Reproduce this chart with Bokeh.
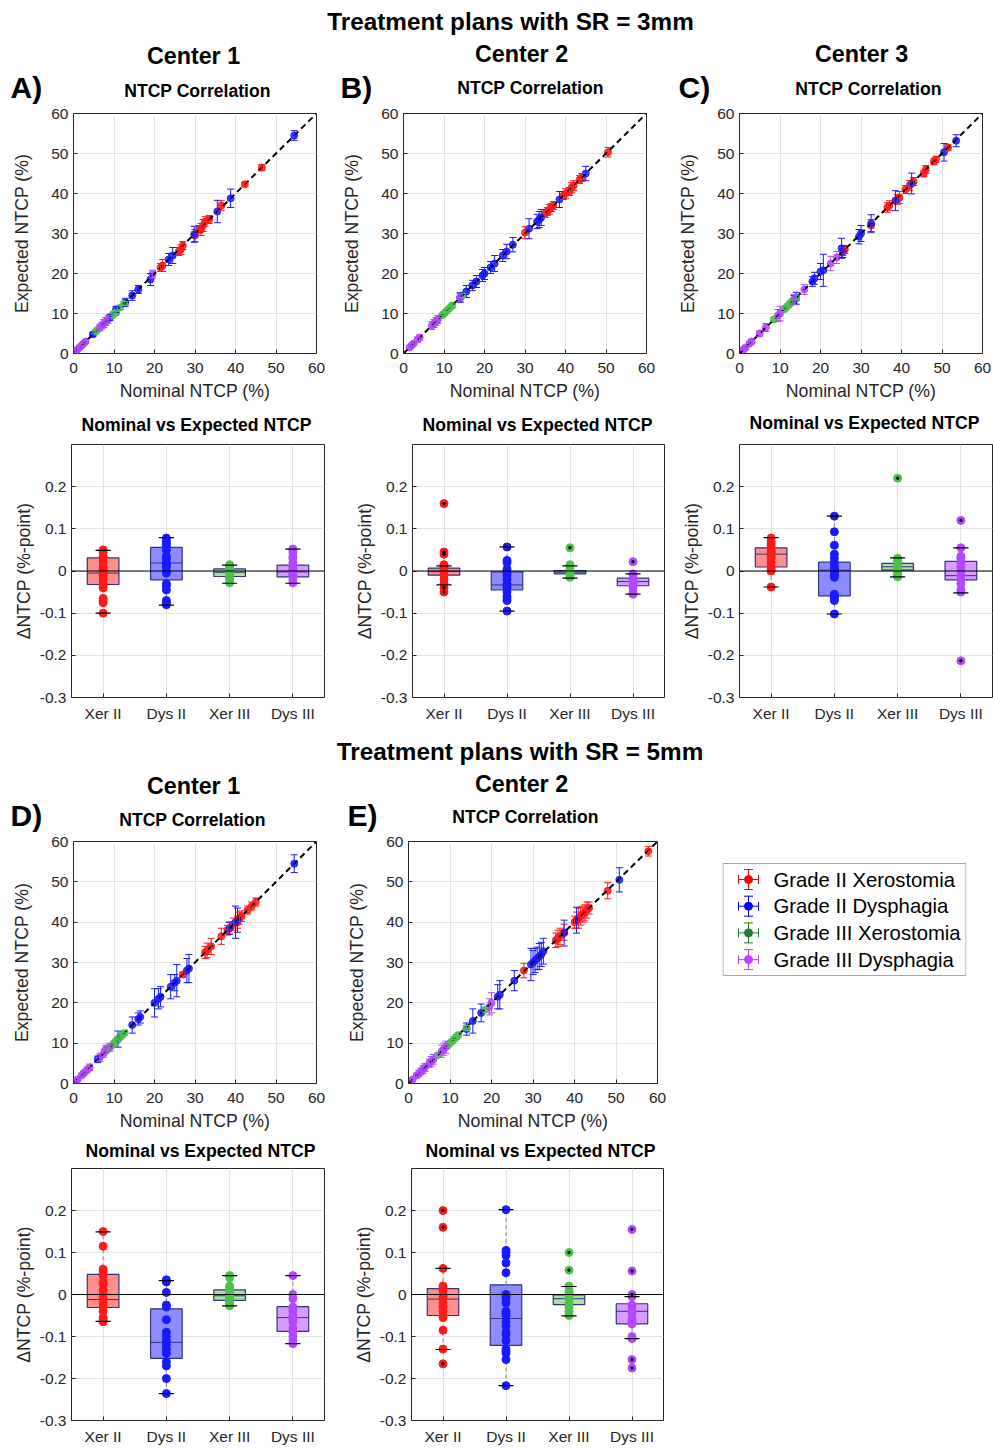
from bokeh.plotting import figure
from bokeh.layouts import column, row
from bokeh.models import Label, Whisker, TeeHead, ColumnDataSource, Range1d, FixedTicker, Span
from bokeh.embed import file_html
from bokeh.resources import INLINE

# ---------------- data: NTCP correlation (nominal, expected, error half-length) ----------------
ntcp_ticks = [0, 10, 20, 30, 40, 50, 60]
diag = [0, 60]

# SR = 3mm, Center 1
s3c1_xer2_nom = [46.5, 42.3, 36.5, 33.5, 32.5, 32.0, 31.5, 31.0, 30.0, 27.0, 26.5, 26.0, 22.0, 21.5]
s3c1_xer2_exp = [46.5, 42.3, 37.0, 33.5, 33.0, 32.0, 31.0, 31.0, 29.5, 27.0, 26.0, 25.5, 22.0, 21.5]
s3c1_xer2_err = [0.8, 0.5, 1.2, 1.0, 1.2, 1.5, 1.5, 1.0, 1.5, 1.0, 1.2, 1.0, 1.5, 1.0]
s3c1_dys2_nom = [54.5, 38.8, 35.5, 29.8, 24.5, 23.5, 19.0, 16.0, 14.5, 12.8, 10.5, 9.0, 4.8]
s3c1_dys2_exp = [54.5, 38.8, 35.5, 29.8, 24.5, 23.5, 18.5, 16.0, 14.5, 12.8, 11.0, 9.0, 4.8]
s3c1_dys2_err = [1.2, 2.3, 2.8, 2.0, 2.0, 1.5, 1.5, 1.0, 1.2, 1.0, 0.8, 0.8, 0.5]
s3c1_xer3_nom = [12.5, 11.5, 10.5, 10.0, 9.5, 6.0, 5.5]
s3c1_xer3_exp = [12.5, 11.5, 10.2, 10.0, 9.5, 6.0, 5.5]
s3c1_xer3_err = [0.5, 0.5, 0.6, 0.5, 0.5, 0.4, 0.4]
s3c1_dys3_nom = [19.5, 8.5, 8.0, 7.5, 7.0, 6.5, 3.0, 2.5, 2.0, 1.5, 1.0, 0.5, 0.2]
s3c1_dys3_exp = [19.8, 8.5, 8.0, 7.5, 7.0, 6.5, 3.0, 2.5, 2.0, 1.5, 1.0, 0.5, 0.2]
s3c1_dys3_err = [1.0, 1.0, 1.0, 1.0, 0.8, 0.8, 0.5, 0.5, 0.5, 0.3, 0.3, 0.3, 0.2]

# SR = 3mm, Center 2
s3c2_xer2_nom = [50.5, 44.0, 43.5, 42.0, 41.5, 41.0, 40.0, 39.5, 37.0, 36.5, 36.0, 35.5, 35.0, 30.0]
s3c2_xer2_exp = [50.3, 44.0, 43.5, 42.0, 41.5, 40.5, 40.0, 39.5, 37.0, 36.5, 36.0, 35.5, 35.0, 30.2]
s3c2_xer2_err = [1.2, 1.0, 1.0, 1.2, 1.2, 1.0, 1.2, 1.0, 1.0, 1.0, 1.2, 1.0, 1.0, 1.5]
s3c2_dys2_nom = [45.0, 38.5, 34.0, 33.5, 33.0, 31.0, 27.0, 25.5, 24.5, 22.5, 21.5, 20.0, 19.5, 18.0, 17.0, 15.5, 14.0]
s3c2_dys2_exp = [45.0, 38.5, 34.0, 33.5, 33.0, 31.2, 27.2, 25.5, 24.5, 22.5, 21.5, 20.0, 19.5, 18.0, 17.0, 15.5, 14.0]
s3c2_dys2_err = [1.8, 2.0, 2.0, 2.0, 1.8, 2.5, 1.8, 1.8, 1.5, 2.0, 1.5, 1.5, 1.5, 1.5, 1.3, 1.5, 1.2]
s3c2_xer3_nom = [14.5, 12.0, 11.5, 11.0, 10.5, 10.0, 9.5]
s3c2_xer3_exp = [14.5, 12.0, 11.5, 11.0, 10.5, 10.0, 9.5]
s3c2_xer3_err = [0.5, 0.6, 0.5, 0.5, 0.5, 0.5, 0.5]
s3c2_dys3_nom = [14.0, 8.5, 8.0, 7.5, 7.0, 4.0, 3.5, 2.5, 2.0, 1.5]
s3c2_dys3_exp = [14.0, 8.5, 8.0, 7.5, 7.0, 4.0, 3.5, 2.5, 2.0, 1.5]
s3c2_dys3_err = [1.0, 1.0, 1.0, 1.0, 1.0, 0.7, 0.6, 0.5, 0.5, 0.4]

# SR = 3mm, Center 3
s3c3_xer2_nom = [51.5, 48.5, 48.0, 46.0, 45.5, 43.0, 42.0, 41.0, 39.5, 39.0, 37.0, 36.5, 32.5, 26.0, 25.5]
s3c3_xer2_exp = [51.5, 48.5, 48.0, 46.0, 45.0, 43.0, 42.0, 41.0, 39.0, 38.5, 37.0, 36.5, 32.0, 26.0, 25.5]
s3c3_xer2_err = [0.8, 0.8, 0.8, 1.0, 0.8, 1.0, 1.2, 1.0, 1.5, 1.2, 1.2, 1.2, 1.5, 1.0, 1.0]
s3c3_dys2_nom = [53.5, 50.5, 42.5, 38.5, 32.5, 30.0, 29.5, 25.2, 25.5, 20.7, 20.0, 18.5, 18.0, 14.0, 13.5]
s3c3_dys2_exp = [53.2, 50.3, 42.5, 38.2, 32.5, 30.0, 29.2, 26.3, 25.5, 20.8, 20.5, 18.8, 18.0, 13.8, 13.5]
s3c3_dys2_err = [1.5, 2.2, 2.6, 2.5, 2.2, 2.0, 1.8, 2.5, 1.5, 4.0, 2.0, 1.5, 1.2, 1.5, 1.0]
s3c3_xer3_nom = [14.0, 13.0, 12.5, 12.0, 11.5, 11.0, 8.5]
s3c3_xer3_exp = [14.0, 13.0, 12.5, 12.0, 11.5, 11.0, 8.5]
s3c3_xer3_err = [0.6, 0.6, 0.6, 0.5, 0.5, 0.5, 0.5]
s3c3_dys3_nom = [24.0, 22.5, 16.0, 13.5, 10.0, 9.5, 6.5, 5.0, 3.0, 2.5, 1.5, 1.0]
s3c3_dys3_exp = [24.0, 22.5, 16.0, 13.5, 10.0, 9.5, 6.5, 5.0, 3.0, 2.5, 1.5, 1.0]
s3c3_dys3_err = [1.5, 1.8, 1.2, 1.3, 1.8, 1.5, 1.0, 0.7, 0.6, 0.5, 0.4, 0.3]

# SR = 5mm, Center 1
s5c1_xer2_nom = [45.0, 44.0, 43.0, 41.5, 41.0, 40.5, 39.5, 38.5, 38.0, 36.5, 34.0, 33.0, 32.5, 27.0]
s5c1_xer2_exp = [45.0, 44.0, 43.0, 41.5, 41.0, 40.0, 39.5, 38.5, 38.0, 36.5, 34.0, 33.0, 32.5, 27.0]
s5c1_xer2_err = [1.0, 1.0, 1.0, 1.3, 1.5, 1.5, 1.5, 1.5, 1.2, 2.0, 2.0, 1.8, 1.5, 0.6]
s5c1_dys2_nom = [54.5, 40.5, 40.0, 38.5, 28.5, 28.0, 25.5, 25.0, 24.0, 21.5, 21.0, 20.0, 16.5, 16.0, 14.5, 11.0, 6.0]
s5c1_dys2_exp = [54.5, 40.5, 40.0, 38.5, 28.5, 28.0, 25.5, 25.0, 24.0, 21.5, 21.0, 20.0, 16.5, 16.0, 14.5, 11.0, 6.0]
s5c1_dys2_err = [2.2, 3.0, 4.0, 1.5, 3.5, 3.0, 4.0, 2.0, 3.0, 2.5, 2.5, 3.5, 1.5, 1.5, 2.0, 2.0, 0.8]
s5c1_xer3_nom = [12.5, 12.0, 11.5, 11.0, 10.5, 10.0, 9.0, 8.5]
s5c1_xer3_exp = [12.5, 12.0, 11.5, 11.0, 10.5, 10.0, 9.0, 8.5]
s5c1_xer3_err = [0.6, 0.6, 0.6, 0.5, 0.6, 0.5, 0.5, 0.5]
s5c1_dys3_nom = [9.0, 8.0, 7.5, 6.5, 4.0, 3.5, 3.0, 2.5, 2.0, 1.0, 0.5]
s5c1_dys3_exp = [9.0, 8.5, 7.5, 6.5, 4.0, 3.5, 3.0, 2.5, 2.0, 1.0, 0.5]
s5c1_dys3_err = [1.0, 1.0, 1.0, 1.0, 0.8, 0.6, 0.5, 0.5, 0.4, 0.3, 0.2]

# SR = 5mm, Center 2
s5c2_xer2_nom = [57.8, 48.0, 43.5, 43.0, 42.5, 42.0, 41.5, 41.0, 40.5, 40.0, 37.5, 36.5, 36.0, 35.5, 27.8]
s5c2_xer2_exp = [57.6, 47.8, 43.5, 43.0, 42.3, 42.0, 41.5, 41.0, 40.5, 40.0, 37.5, 36.5, 36.0, 35.5, 28.0]
s5c2_xer2_err = [1.2, 2.0, 1.5, 2.0, 2.0, 2.0, 2.2, 2.5, 2.0, 1.5, 2.0, 2.0, 2.0, 1.8, 1.8]
s5c2_dys2_nom = [50.8, 40.5, 37.5, 32.5, 32.0, 31.5, 31.0, 30.5, 30.0, 29.5, 25.5, 22.0, 21.5, 17.5, 15.5, 14.0]
s5c2_dys2_exp = [50.5, 40.5, 37.3, 32.8, 32.0, 31.5, 31.0, 30.5, 30.0, 29.5, 25.5, 22.0, 21.5, 17.5, 15.5, 13.5]
s5c2_dys2_err = [3.0, 3.2, 3.2, 3.2, 3.0, 3.2, 2.8, 3.0, 3.0, 4.0, 2.5, 3.5, 3.0, 2.2, 3.0, 1.5]
s5c2_xer3_nom = [18.5, 14.0, 12.0, 11.5, 11.0, 10.5, 10.0, 9.5, 7.0]
s5c2_xer3_exp = [18.3, 13.8, 12.0, 11.5, 11.0, 10.5, 10.0, 9.5, 7.0]
s5c2_xer3_err = [0.6, 0.6, 0.6, 0.6, 0.6, 0.5, 0.5, 0.5, 0.5]
s5c2_dys3_nom = [20.0, 19.5, 9.0, 8.5, 8.0, 6.0, 5.5, 5.0, 4.0, 3.5, 3.0, 2.5, 2.0, 1.0]
s5c2_dys3_exp = [20.0, 19.0, 9.0, 8.5, 8.0, 6.0, 5.5, 5.0, 4.0, 3.5, 3.0, 2.5, 2.0, 1.0]
s5c2_dys3_err = [2.5, 2.0, 1.5, 1.5, 1.5, 1.2, 1.2, 1.0, 1.0, 1.0, 0.8, 0.8, 0.6, 0.4]

# ---------------- data: delta NTCP box plots ----------------
box_cats = ["Xer II", "Dys II", "Xer III", "Dys III"]
box_pos = [1, 2, 3, 4]
box_yticks = [-0.3, -0.2, -0.1, 0, 0.1, 0.2]
box_ytick_labels = ["-0.3", "-0.2", "-0.1", "0", "0.1", "0.2"]

b3c1_xer2 = [0.05, 0.045, 0.035, 0.03, 0.02, 0.01, 0.005, 0.0, -0.005, -0.01, -0.02, -0.03, -0.035, -0.04, -0.065, -0.07, -0.075, -0.1]
b3c1_dys2 = [0.078, 0.072, 0.065, 0.06, 0.05, 0.035, 0.03, 0.02, 0.015, 0.01, 0.0, -0.005, -0.03, -0.035, -0.045, -0.07, -0.075, -0.08]
b3c1_xer3 = [0.015, 0.01, 0.005, 0.0, -0.005, -0.01, -0.015, -0.02, -0.028]
b3c1_dys3 = [0.052, 0.045, 0.035, 0.03, 0.02, 0.01, 0.005, 0.0, -0.005, -0.01, -0.02, -0.028]
b3c1_q1 = [-0.032, -0.021, -0.013, -0.014]
b3c1_med = [-0.005, 0.019, -0.003, -0.002]
b3c1_q3 = [0.031, 0.056, 0.005, 0.014]
b3c1_lo = [-0.1, -0.081, -0.029, -0.029]
b3c1_hi = [0.049, 0.079, 0.014, 0.052]

b3c2_xer2 = [0.16, 0.045, 0.04, 0.015, 0.01, 0.005, 0.0, -0.005, -0.01, -0.02, -0.03, -0.04, -0.05]
b3c2_dys2 = [0.057, 0.025, 0.02, 0.005, 0.0, -0.005, -0.01, -0.02, -0.03, -0.035, -0.04, -0.05, -0.06, -0.065, -0.07, -0.095]
b3c2_xer3 = [0.055, 0.015, 0.01, 0.005, 0.0, -0.005, -0.01, -0.015]
b3c2_dys3 = [0.022, -0.007, -0.01, -0.02, -0.025, -0.03, -0.035, -0.04, -0.05, -0.055]
b3c2_q1 = [-0.010, -0.045, -0.007, -0.035]
b3c2_med = [-0.001, -0.033, -0.003, -0.025]
b3c2_q3 = [0.007, -0.002, 0.001, -0.017]
b3c2_lo = [-0.033, -0.095, -0.017, -0.055]
b3c2_hi = [0.012, 0.057, 0.012, -0.007]

b3c3_xer2 = [0.078, 0.07, 0.065, 0.06, 0.05, 0.045, 0.04, 0.035, 0.03, 0.02, 0.01, 0.005, 0.0, -0.038]
b3c3_dys2 = [0.13, 0.093, 0.061, 0.04, 0.03, 0.02, 0.01, 0.005, 0.0, -0.005, -0.01, -0.015, -0.055, -0.06, -0.065, -0.07, -0.102]
b3c3_xer3 = [0.22, 0.03, 0.025, 0.02, 0.015, 0.01, 0.005, 0.0, -0.005, -0.01, -0.014]
b3c3_dys3 = [0.12, 0.055, 0.035, 0.03, 0.02, 0.01, 0.0, -0.01, -0.02, -0.03, -0.045, -0.05, -0.213]
b3c3_q1 = [0.0095, -0.059, 0.002, -0.021]
b3c3_med = [0.040, 0.002, 0.010, -0.011]
b3c3_q3 = [0.055, 0.021, 0.018, 0.023]
b3c3_lo = [-0.038, -0.102, -0.014, -0.052]
b3c3_hi = [0.079, 0.13, 0.031, 0.055]

b5c1_xer2 = [0.15, 0.115, 0.06, 0.055, 0.05, 0.045, 0.03, 0.025, 0.01, 0.0, -0.01, -0.02, -0.03, -0.04, -0.055, -0.06, -0.065]
b5c1_dys2 = [0.035, 0.03, 0.005, -0.025, -0.03, -0.06, -0.09, -0.1, -0.11, -0.12, -0.13, -0.14, -0.16, -0.17, -0.2, -0.236]
b5c1_xer3 = [0.045, 0.04, 0.02, 0.015, 0.01, 0.005, 0.0, -0.005, -0.01, -0.015, -0.02, -0.027]
b5c1_dys3 = [0.045, 0.0, -0.01, -0.03, -0.035, -0.04, -0.05, -0.055, -0.06, -0.065, -0.08, -0.09, -0.1, -0.11, -0.117]
b5c1_q1 = [-0.031, -0.152, -0.014, -0.088]
b5c1_med = [-0.012, -0.114, -0.003, -0.055]
b5c1_q3 = [0.048, -0.034, 0.011, -0.029]
b5c1_lo = [-0.064, -0.236, -0.027, -0.117]
b5c1_hi = [0.149, 0.033, 0.045, 0.045]

b5c2_xer2 = [0.2, 0.16, 0.062, 0.02, 0.015, 0.01, 0.0, -0.005, -0.01, -0.02, -0.03, -0.04, -0.05, -0.055, -0.085, -0.13, -0.165]
b5c2_dys2 = [0.202, 0.105, 0.1, 0.093, 0.075, 0.052, 0.0, -0.005, -0.01, -0.02, -0.04, -0.045, -0.05, -0.065, -0.075, -0.09, -0.095, -0.11, -0.13, -0.135, -0.14, -0.155, -0.217]
b5c2_xer3 = [0.1, 0.058, 0.02, 0.01, 0.005, 0.0, -0.005, -0.01, -0.02, -0.03, -0.04, -0.05]
b5c2_dys3 = [0.155, 0.056, 0.0, -0.005, -0.025, -0.03, -0.04, -0.045, -0.06, -0.065, -0.07, -0.1, -0.105, -0.155, -0.175]
b5c2_q1 = [-0.050, -0.121, -0.024, -0.070]
b5c2_med = [-0.011, -0.057, -0.010, -0.040]
b5c2_q3 = [0.014, 0.023, -0.001, -0.022]
b5c2_lo = [-0.131, -0.217, -0.051, -0.105]
b5c2_hi = [0.062, 0.202, 0.019, -0.005]

legend_labels = ["Grade II Xerostomia", "Grade II Dysphagia", "Grade III Xerostomia", "Grade III Dysphagia"]

# ---------------- styling ----------------
FONT = "Liberation Sans"
TXT = "#262626"
GRID = "#e3e3e3"
SERIES_COLORS = ["#ff1a1a", "#1a1aff", "#4cc24c", "#b347ff"]
LEGEND_COLORS = ["#ff0000", "#0000ff", "#1f7a33", "#bf40ff"]
BOX_FILLS = ["#ff8f8a", "#8c8cff", "#a9e29e", "#d79cff"]
EDGE = "#34347a"
WHISK = "#8a8a8a"
PAGE_W = 993


def base_fig(w, h, l, r, t, b, xr, yr):
    p = figure(width=w, height=h, min_border_left=l, min_border_right=r,
               min_border_top=t, min_border_bottom=b, x_range=xr, y_range=yr,
               output_backend="svg", toolbar_location=None, title=None)
    p.outline_line_color = TXT
    p.outline_line_width = 1
    p.outline_line_alpha = 1
    p.border_fill_color = "white"
    p.background_fill_color = "white"
    return p


def style_axes(p, xlabel, ylabel, xstand, ystand, xtick_standoff):
    for ax in (p.xaxis[0], p.yaxis[0]):
        ax.axis_line_color = None
        ax.major_tick_in = 4
        ax.major_tick_out = 0
        ax.major_tick_line_color = TXT
        ax.minor_tick_line_color = None
        ax.major_label_text_font = FONT
        ax.major_label_text_font_size = "15.5px"
        ax.major_label_text_color = TXT
        ax.major_label_standoff = 5
        ax.axis_label_text_font = FONT
        ax.axis_label_text_font_size = "17.7px"
        ax.axis_label_text_font_style = "normal"
        ax.axis_label_text_color = TXT
    p.xaxis[0].major_label_standoff = xtick_standoff
    p.xaxis[0].axis_label = xlabel
    p.yaxis[0].axis_label = ylabel
    p.xaxis[0].axis_label_standoff = xstand
    p.yaxis[0].axis_label_standoff = ystand
    p.xgrid.grid_line_color = GRID
    p.ygrid.grid_line_color = GRID


def scatter_panel(w, h, l, r, t, b, series):
    p = base_fig(w, h, l, r, t, b, Range1d(0, 60), Range1d(0, 60))
    style_axes(p, "Nominal NTCP (%)", "Expected NTCP (%)", 5, 16, 9)
    p.xaxis.ticker = FixedTicker(ticks=ntcp_ticks)
    p.yaxis.ticker = FixedTicker(ticks=ntcp_ticks)
    for (nom, exp, err), c in zip(series, SERIES_COLORS):
        src = ColumnDataSource(dict(x=nom, y=exp,
                                    lo=[e - d for e, d in zip(exp, err)],
                                    hi=[e + d for e, d in zip(exp, err)]))
        p.add_layout(Whisker(source=src, base="x", lower="lo", upper="hi", dimension="height",
                             line_color=c, line_width=1, level="glyph",
                             upper_head=TeeHead(size=7, line_color=c, line_width=1),
                             lower_head=TeeHead(size=7, line_color=c, line_width=1)))
        p.scatter("x", "y", source=src, size=7, fill_color=c, line_color=c,
                  fill_alpha=0.85, line_alpha=0.9)
    p.line(diag, diag, line_color="black", line_width=2, line_dash="6 4")
    return p


def box_panel(w, h, l, r, t, b, groups, q1, med, q3, lo, hi):
    p = base_fig(w, h, l, r, t, b, Range1d(0.5, 4.5), Range1d(-0.3, 0.3))
    style_axes(p, None, "\u0394NTCP (%-point)", 0, 3, 7)
    p.xaxis.ticker = FixedTicker(ticks=box_pos)
    p.xaxis.major_label_overrides = {pos: cat for pos, cat in zip(box_pos, box_cats)}
    p.yaxis.ticker = FixedTicker(ticks=box_yticks)
    p.yaxis.major_label_overrides = {v: s for v, s in zip(box_yticks, box_ytick_labels)}
    half_box, half_cap = 0.25, 0.12
    p.vbar(x=box_pos, width=2 * half_box, bottom=q1, top=q3, fill_color=BOX_FILLS,
           line_color=EDGE, line_width=1.2)
    p.segment(x0=[x - half_box for x in box_pos], y0=med, x1=[x + half_box for x in box_pos], y1=med,
              line_color=EDGE, line_width=1)
    p.segment(x0=box_pos, y0=q3, x1=box_pos, y1=hi, line_color=WHISK, line_width=1, line_dash="4 3")
    p.segment(x0=box_pos, y0=lo, x1=box_pos, y1=q1, line_color=WHISK, line_width=1, line_dash="4 3")
    for x, pts, c in zip(box_pos, groups, SERIES_COLORS):
        p.scatter([x] * len(pts), pts, size=8, fill_color=c, line_color=c)
    p.segment(x0=[x - half_cap for x in box_pos], y0=hi, x1=[x + half_cap for x in box_pos], y1=hi,
              line_color="black", line_width=1.2)
    p.segment(x0=[x - half_cap for x in box_pos], y0=lo, x1=[x + half_cap for x in box_pos], y1=lo,
              line_color="black", line_width=1.2)
    ox, oy = [], []
    for x, pts, a, bb in zip(box_pos, groups, lo, hi):
        for v in pts:
            if v > bb + 0.004 or v < a - 0.004:
                ox.append(x)
                oy.append(v)
    p.scatter(ox, oy, size=2.5, fill_color="black", line_color="black")
    p.add_layout(Span(location=0, dimension="width", line_color="black", line_width=1.2))
    return p


def blank(w, h, l=0, r=0, t=0, b=0):
    p = figure(width=w, height=h, min_border_left=l, min_border_right=r, min_border_top=t,
               min_border_bottom=b, x_axis_type=None, y_axis_type=None,
               output_backend="svg", toolbar_location=None, title=None)
    p.outline_line_color = None
    p.border_fill_color = "white"
    p.background_fill_color = "white"
    p.xgrid.visible = False
    p.ygrid.visible = False
    return p


def band(top, bottom, texts):
    """Full-width strip holding titles; texts are (text, x, vertical centre (page px), size, align)."""
    h = bottom - top
    p = blank(PAGE_W, h)
    p.x_range = Range1d(0, PAGE_W)
    p.y_range = Range1d(0, h)
    for text, x, yc, size, align in texts:
        p.add_layout(Label(x=x, y=bottom - yc, text=text, text_font=FONT, text_font_size=size,
                           text_font_style="bold", text_align=align, text_baseline="middle",
                           text_color="black"))
    return p


SUP, CEN, SUB, LET = "24.3px", "23.3px", "17.6px", "30px"

# ---------------- SR = 3mm ----------------
t1 = band(0, 104, [
    ("Treatment plans with SR = 3mm", 510, 21.2, SUP, "center"),
    ("Center 1", 193, 55, CEN, "center"),
    ("Center 2", 521, 53.3, CEN, "center"),
    ("Center 3", 861, 53.8, CEN, "center"),
    ("A)", 10, 87, LET, "left"),
    ("B)", 340, 87, LET, "left"),
    ("C)", 678, 87, LET, "left"),
    ("NTCP Correlation", 197, 90.8, SUB, "center"),
    ("NTCP Correlation", 530, 87.5, SUB, "center"),
    ("NTCP Correlation", 868, 88.3, SUB, "center"),
])

sA = scatter_panel(336, 301, 73, 20, 9, 52, [
    (s3c1_xer2_nom, s3c1_xer2_exp, s3c1_xer2_err), (s3c1_dys2_nom, s3c1_dys2_exp, s3c1_dys2_err),
    (s3c1_xer3_nom, s3c1_xer3_exp, s3c1_xer3_err), (s3c1_dys3_nom, s3c1_dys3_exp, s3c1_dys3_err)])
sB = scatter_panel(334, 301, 67, 24, 9, 52, [
    (s3c2_xer2_nom, s3c2_xer2_exp, s3c2_xer2_err), (s3c2_dys2_nom, s3c2_dys2_exp, s3c2_dys2_err),
    (s3c2_xer3_nom, s3c2_xer3_exp, s3c2_xer3_err), (s3c2_dys3_nom, s3c2_dys3_exp, s3c2_dys3_err)])
sC = scatter_panel(323, 301, 69, 11, 9, 52, [
    (s3c3_xer2_nom, s3c3_xer2_exp, s3c3_xer2_err), (s3c3_dys2_nom, s3c3_dys2_exp, s3c3_dys2_err),
    (s3c3_xer3_nom, s3c3_xer3_exp, s3c3_xer3_err), (s3c3_dys3_nom, s3c3_dys3_exp, s3c3_dys3_err)])

t2 = band(405, 440, [
    ("Nominal vs Expected NTCP", 196, 424.2, SUB, "center"),
    ("Nominal vs Expected NTCP", 537, 424.2, SUB, "center"),
    ("Nominal vs Expected NTCP", 864, 422.5, SUB, "center"),
])

bA = box_panel(336, 290, 71, 12, 4, 33, [b3c1_xer2, b3c1_dys2, b3c1_xer3, b3c1_dys3],
               b3c1_q1, b3c1_med, b3c1_q3, b3c1_lo, b3c1_hi)
bB = box_panel(334, 290, 76, 6, 4, 33, [b3c2_xer2, b3c2_dys2, b3c2_xer3, b3c2_dys3],
               b3c2_q1, b3c2_med, b3c2_q3, b3c2_lo, b3c2_hi)
bC = box_panel(323, 290, 69, 1, 4, 33, [b3c3_xer2, b3c3_dys2, b3c3_xer3, b3c3_dys3],
               b3c3_q1, b3c3_med, b3c3_q3, b3c3_lo, b3c3_hi)

# ---------------- SR = 5mm ----------------
t3 = band(730, 832, [
    ("Treatment plans with SR = 5mm", 519.5, 751, SUP, "center"),
    ("Center 1", 193, 785, CEN, "center"),
    ("Center 2", 521, 783.7, CEN, "center"),
    ("D)", 10, 815, LET, "left"),
    ("E)", 347, 815, LET, "left"),
    ("NTCP Correlation", 192, 819.8, SUB, "center"),
    ("NTCP Correlation", 525, 816.3, SUB, "center"),
])

sD = scatter_panel(336, 303, 73, 20, 9, 52, [
    (s5c1_xer2_nom, s5c1_xer2_exp, s5c1_xer2_err), (s5c1_dys2_nom, s5c1_dys2_exp, s5c1_dys2_err),
    (s5c1_xer3_nom, s5c1_xer3_exp, s5c1_xer3_err), (s5c1_dys3_nom, s5c1_dys3_exp, s5c1_dys3_err)])
sE = scatter_panel(364, 303, 72, 43, 9, 52, [
    (s5c2_xer2_nom, s5c2_xer2_exp, s5c2_xer2_err), (s5c2_dys2_nom, s5c2_dys2_exp, s5c2_dys2_err),
    (s5c2_xer3_nom, s5c2_xer3_exp, s5c2_xer3_err), (s5c2_dys3_nom, s5c2_dys3_exp, s5c2_dys3_err)])

# legend panel: frame of 244 x 242 px, legend box drawn inside it
leg = blank(293, 303, 22, 27, 9, 52)
leg.x_range = Range1d(0, 244)
leg.y_range = Range1d(0, 242)
leg.quad(left=[0.5], right=[243.5], bottom=[108], top=[220], fill_color="white",
         line_color="#a6a6a6", line_width=1)
row_y = [204 - 26.7 * i for i in range(len(legend_labels))]
mx, bar, cap = 26, 10, 4.5
for yy, c, lab in zip(row_y, LEGEND_COLORS, legend_labels):
    leg.segment(x0=[mx, mx - bar, mx - cap, mx - cap, mx - bar, mx + bar],
                y0=[yy - bar, yy, yy + bar, yy - bar, yy - cap, yy - cap],
                x1=[mx, mx + bar, mx + cap, mx + cap, mx - bar, mx + bar],
                y1=[yy + bar, yy, yy + bar, yy - bar, yy + cap, yy + cap],
                line_color=c, line_width=1)
    leg.scatter([mx], [yy], size=8, fill_color=c, line_color=c)
    leg.add_layout(Label(x=51, y=yy, text=lab, text_font=FONT, text_font_size="20.3px",
                         text_align="left", text_baseline="middle", text_color="black"))

t4 = band(1135, 1164, [
    ("Nominal vs Expected NTCP", 200, 1150.2, SUB, "center"),
    ("Nominal vs Expected NTCP", 540, 1150.2, SUB, "center"),
])

bD = box_panel(336, 285, 71, 12, 4, 29, [b5c1_xer2, b5c1_dys2, b5c1_xer3, b5c1_dys3],
               b5c1_q1, b5c1_med, b5c1_q3, b5c1_lo, b5c1_hi)
bE = box_panel(334, 285, 75, 7, 4, 29, [b5c2_xer2, b5c2_dys2, b5c2_xer3, b5c2_dys3],
               b5c2_q1, b5c2_med, b5c2_q3, b5c2_lo, b5c2_hi)

layout = column(t1, row(sA, sB, sC), t2, row(bA, bB, bC), t3, row(sD, sE, leg), t4, row(bD, bE))

open("out.html", "w").write(file_html(layout, INLINE))
